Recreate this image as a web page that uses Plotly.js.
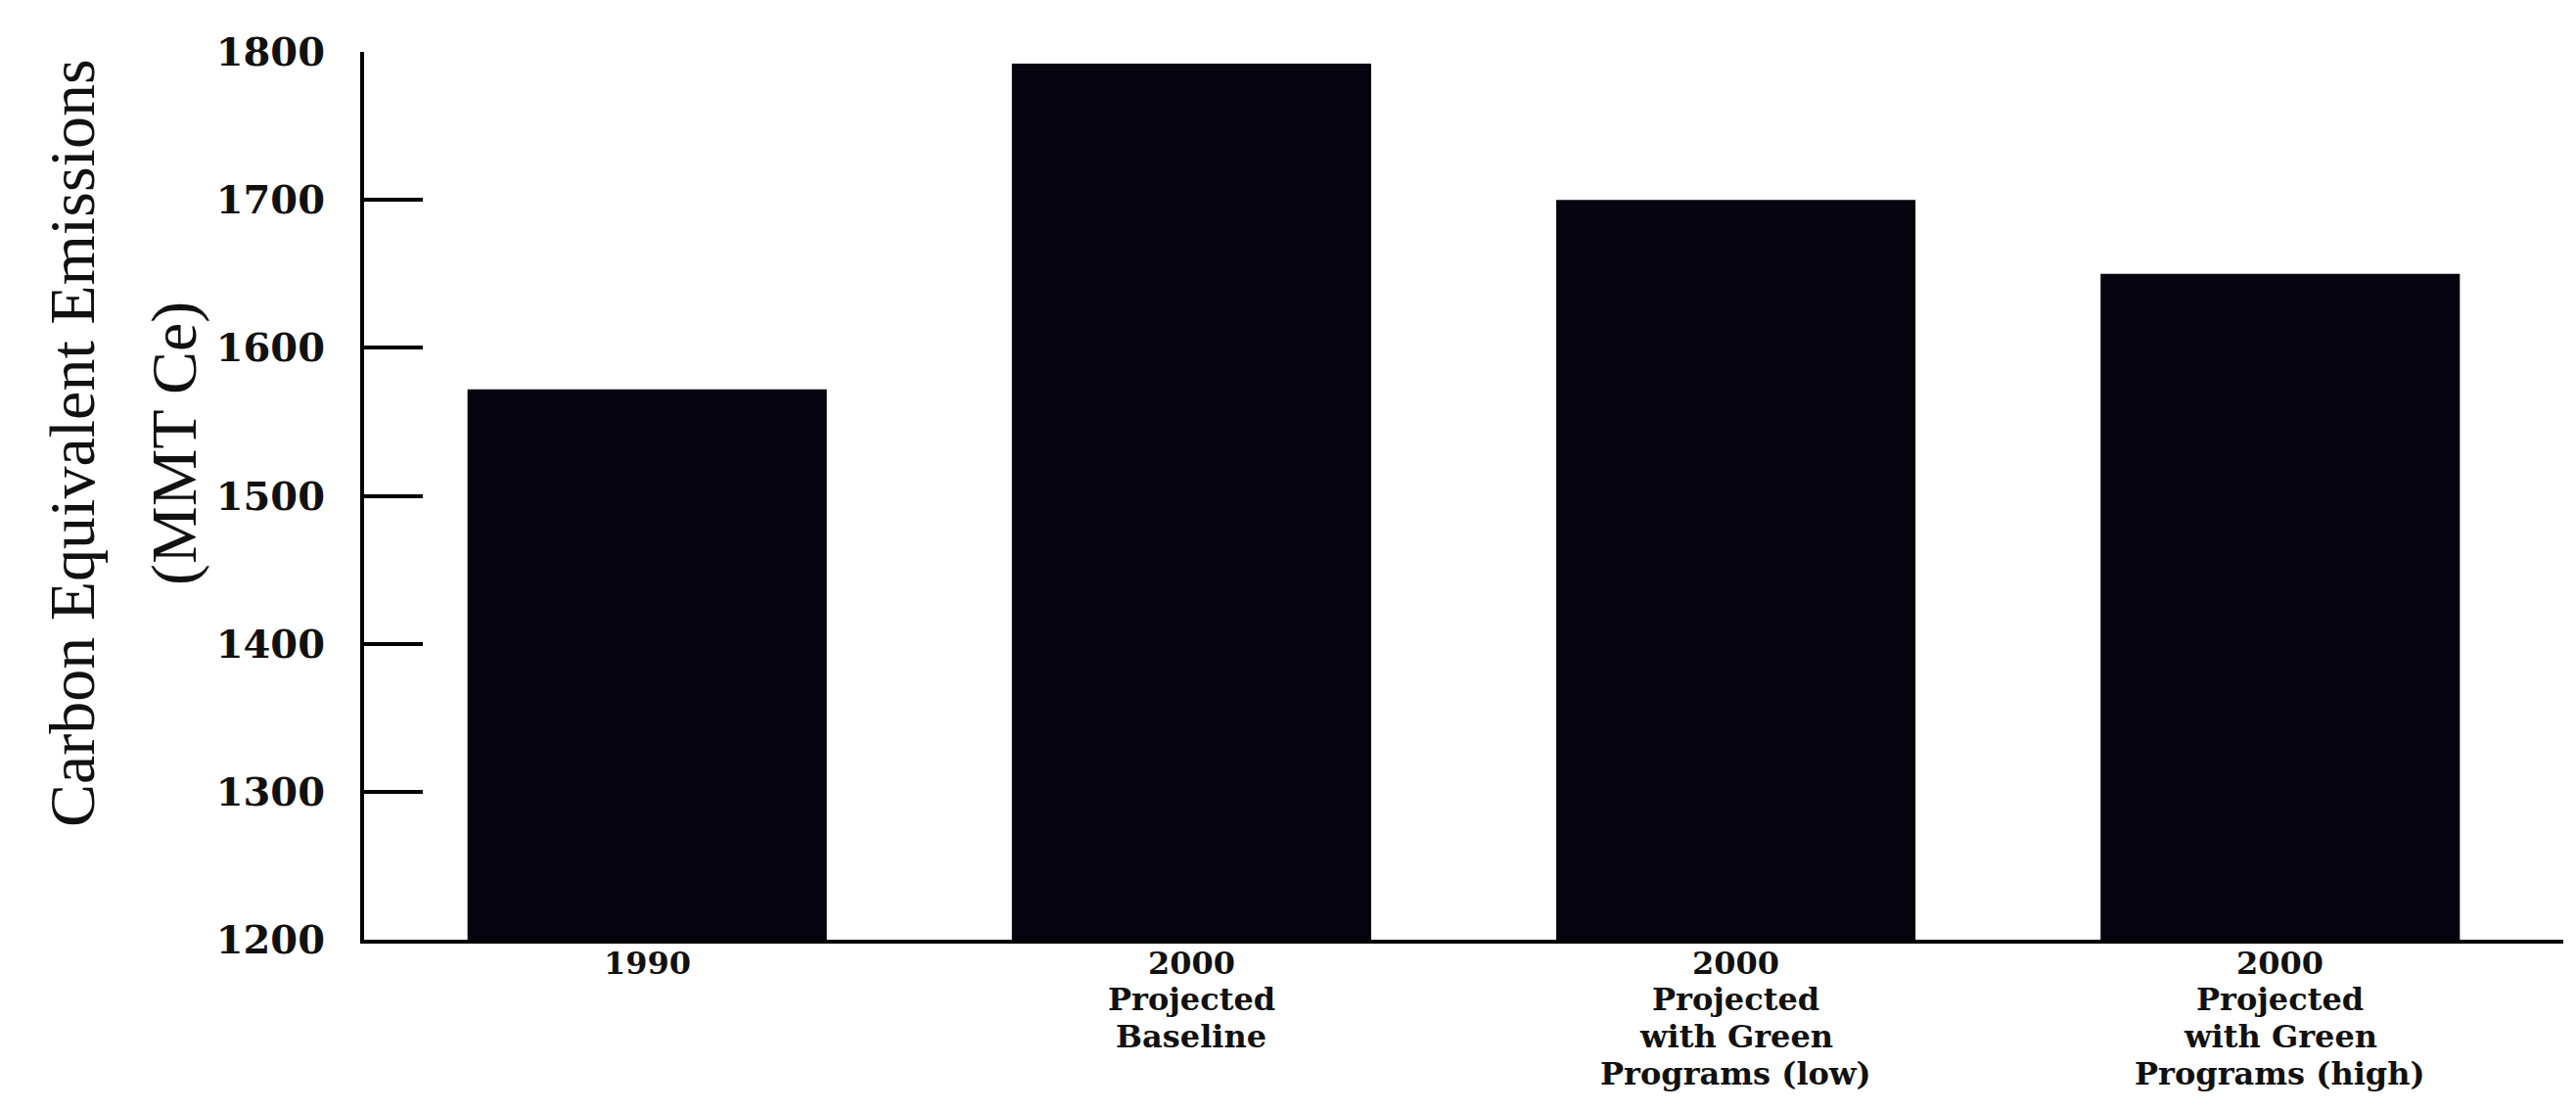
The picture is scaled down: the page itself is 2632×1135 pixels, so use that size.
<!DOCTYPE html>
<html>
<head>
<meta charset="utf-8">
<script src="https://cdn.plot.ly/plotly-3.0.1.min.js"></script>
<style>
html, body { margin: 0; padding: 0; background: #ffffff; }
#chart { width: 2632px; height: 1135px; }
</style>
</head>
<body>
<div id="chart"></div>
<script>
const categories = [
  "1990",
  "2000<br>Projected<br>Baseline",
  "2000<br>Projected<br>with Green<br>Programs (low)",
  "2000<br>Projected<br>with Green<br>Programs (high)"
];
const emissions = [1572, 1792, 1700, 1650];
const yTicks = [1200, 1300, 1400, 1500, 1600, 1700, 1800];
const yTitleLine1 = "Carbon Equivalent Emissions";
const yTitleLine2 = "(MMT Ce)";

const W = 2632, H = 1135;
const M = { l: 372, r: 13, t: 53, b: 175 };
const plotH = H - M.t - M.b;
const plotW = W - M.l - M.r;

const trace = {
  type: "bar",
  x: [0, 1, 2, 3],
  y: emissions,
  marker: { color: "#06040f", line: { width: 0 } },
  width: 0.66,
  hoverinfo: "skip",
  cliponaxis: true
};

// category labels: one annotation per text line, anchored at the category on the x scale
const catAnnotations = [];
categories.forEach((label, i) => {
  label.split("<br>").forEach((line, k) => {
    const centerPx = 24 + k * 37.5; // distance below the x axis line, in px
    catAnnotations.push({
      xref: "x", yref: "paper",
      x: i, y: -centerPx / plotH,
      xanchor: "center", yanchor: "middle",
      showarrow: false,
      borderpad: 0,
      text: line,
      font: { family: "DejaVu Serif", size: 32, color: "#111111", weight: "bold" }
    });
  });
});

const layout = {
  width: W,
  height: H,
  paper_bgcolor: "#ffffff",
  plot_bgcolor: "#ffffff",
  margin: M,
  showlegend: false,
  xaxis: {
    range: [-0.52, 3.52],
    tickmode: "array",
    tickvals: [0, 1, 2, 3],
    ticktext: categories,
    showticklabels: false,
    showgrid: false,
    zeroline: false,
    showline: true,
    linecolor: "#000000",
    linewidth: 4,
    ticks: ""
  },
  yaxis: {
    range: [1200, 1800],
    tickmode: "array",
    tickvals: yTicks,
    ticktext: yTicks.map(String),
    showgrid: false,
    zeroline: false,
    showline: true,
    linecolor: "#000000",
    linewidth: 4,
    ticks: "inside",
    ticklen: 60,
    tickwidth: 4,
    tickcolor: "#000000",
    ticklabelstandoff: 28,
    tickfont: { family: "DejaVu Serif", size: 40, color: "#111111", weight: "bold" }
  },
  annotations: [
    {
      xref: "paper", yref: "paper",
      x: (74 - M.l) / plotW, y: 0.559,
      xanchor: "center", yanchor: "middle",
      textangle: -90, showarrow: false,
      text: yTitleLine1,
      font: { family: "Liberation Serif", size: 66, color: "#111111" }
    },
    {
      xref: "paper", yref: "paper",
      x: (178 - M.l) / plotW, y: 0.559,
      xanchor: "center", yanchor: "middle",
      textangle: -90, showarrow: false,
      text: yTitleLine2,
      font: { family: "Liberation Serif", size: 66, color: "#111111" }
    }
  ].concat(catAnnotations)
};

Plotly.newPlot("chart", [trace], layout, { displayModeBar: false, staticPlot: true });
</script>
</body>
</html>
